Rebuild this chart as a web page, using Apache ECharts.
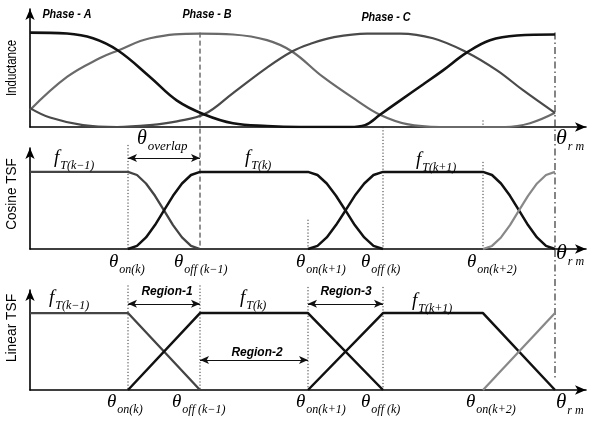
<!DOCTYPE html>
<html>
<head>
<meta charset="utf-8">
<script src="https://cdn.jsdelivr.net/npm/echarts@6/dist/echarts.min.js"></script>
<style>
  html, body { margin: 0; padding: 0; background: #fff; }
  #chart { width: 592px; height: 425px; }
</style>
</head>
<body>
<div id="chart"></div>
<script>
// Rotor position axis runs from 0 to θrm = 105 (arbitrary units).
// Switching angles along that axis.
const switchAngles = [19.6, 34, 55.6, 70.6, 90.6, 105];

// Phase inductance profiles, [θ, L / Lmax]
const phaseA = [[0,1.0],[7.4,0.99],[12.6,0.94],[17.6,0.81],[24,0.53],[29.4,0.28],[35,0.13],[40.6,0.04],[47.4,0.01],[54,0],[64,0],[67,0.02],[70,0.13],[74,0.28],[78.6,0.45],[82.6,0.6],[87.4,0.79],[92,0.92],[97.4,0.97],[105,0.98]];
const phaseB = [[0,0.18],[7.4,0.53],[14,0.73],[17.6,0.81],[24,0.94],[34,0.99],[40.6,0.98],[47.4,0.92],[52.4,0.8],[58.6,0.53],[65.4,0.28],[70,0.13],[75.4,0.03],[82,0],[95,0],[100,0.04],[105,0.15]];
const phaseC = [[0,0.2],[4,0.1],[10.6,0.02],[17.4,0],[24,0.02],[29.4,0.06],[35,0.14],[40.6,0.36],[47.4,0.63],[52.4,0.8],[56,0.88],[60.6,0.95],[67.4,0.99],[74,0.99],[80.6,0.94],[87.4,0.79],[93.4,0.6],[98.6,0.39],[105,0.15]];

// Cosine torque sharing functions, [θ, f]
const cosPrev = [[0,1],[19.6,1],[21.4,0.96],[23.2,0.85],[25,0.69],[26.8,0.5],[28.6,0.31],[30.4,0.15],[32.2,0.04],[34,0]];
const cosK = [[19.6,0],[21.4,0.04],[23.2,0.15],[25,0.31],[26.8,0.5],[28.6,0.69],[30.4,0.85],[32.2,0.96],[34,1],[55.6,1],[57.5,0.96],[59.35,0.85],[61.2,0.69],[63.1,0.5],[64.95,0.31],[66.85,0.15],[68.7,0.04],[70.6,0]];
const cosK1 = [[55.6,0],[57.5,0.04],[59.35,0.15],[61.2,0.31],[63.1,0.5],[64.95,0.69],[66.85,0.85],[68.7,0.96],[70.6,1],[90.6,1],[92.4,0.96],[94.2,0.85],[96,0.69],[97.8,0.5],[99.6,0.31],[101.4,0.15],[103.2,0.04],[105,0]];
const cosK2 = [[90.6,0],[92.4,0.04],[94.2,0.15],[96,0.31],[97.8,0.5],[99.6,0.69],[101.4,0.85],[103.2,0.96],[105,1]];

// Linear torque sharing functions, [θ, f]
const linPrev = [[0,1],[19.6,1],[34,0]];
const linK = [[19.6,0],[34,1],[55.6,1],[70.6,0]];
const linK1 = [[55.6,0],[70.6,1],[90.6,1],[105,0]];
const linK2 = [[90.6,0],[105,1]];

// Interval arrows: [from θ, to θ, level]
const overlapSpan = [19.6, 34, 1.18];
const region1Span = [19.6, 34, 1.12];
const region2Span = [34, 55.6, 0.39];
const region3Span = [55.6, 70.6, 1.12];

// Vertical reference lines: [θ, from panel, from level, to panel, to level, kind]
const guides = [
  [34, 0, 1.0, 1, 0, 'dash'],
  [105, 0, 1.0, 2, 0.13, 'dashdot'],
  [70.6, 0, 0, 1, 0, 'dot'],
  [90.6, 0, 0.07, 0, 0, 'dot'],
  [19.6, 1, 1.35, 1, 0, 'dot'],
  [55.6, 1, 0.38, 1, 0, 'dot'],
  [90.6, 1, 1.13, 1, 0, 'dot'],
  [19.6, 2, 1.36, 2, 0, 'dot'],
  [34, 2, 1.36, 2, 0, 'dot'],
  [55.6, 2, 1.34, 2, 0, 'dot'],
  [70.6, 2, 1.34, 2, 0, 'dot']
];

const SERIF = '"Liberation Serif", "Times New Roman", serif';
const SANS = '"Liberation Sans", Arial, sans-serif';
const BLACK = '#111';

const grids = [
  { left: 30, top: 9, width: 556, height: 118 },
  { left: 30, top: 148, width: 556, height: 101 },
  { left: 30, top: 290, width: 556, height: 100 }
];
const yMax = [1.25, 1.31, 1.30];

function axisLineCfg() {
  return {
    show: true,
    symbol: ['none', 'arrow'],
    symbolSize: [7, 11],
    lineStyle: { color: '#000', width: 1.6 }
  };
}

const xAxes = grids.map((g, i) => ({
  type: 'value', gridIndex: i, min: 0, max: 111.2,
  axisLine: axisLineCfg(), axisTick: { show: false },
  axisLabel: { show: false }, splitLine: { show: false }
}));
const yAxes = grids.map((g, i) => ({
  type: 'value', gridIndex: i, min: 0, max: yMax[i],
  axisLine: axisLineCfg(), axisTick: { show: false },
  axisLabel: { show: false }, splitLine: { show: false }
}));

function curve(data, grid, color, width, smooth) {
  return {
    type: 'line', data: data, xAxisIndex: grid, yAxisIndex: grid,
    showSymbol: false, symbol: 'none', smooth: smooth || false,
    lineStyle: { color: color, width: width },
    silent: true, animation: false, z: 3
  };
}

function arrowMark(spans) {
  return {
    silent: true, animation: false,
    symbol: ['arrow', 'arrow'], symbolSize: [6, 9],
    label: { show: false }, emphasis: { disabled: true },
    lineStyle: { color: BLACK, width: 1.2, type: 'solid' },
    data: spans.map(s => [{ coord: [s[0], s[2]] }, { coord: [s[1], s[2]] }])
  };
}

const series = [
  curve(phaseB, 0, '#6a6a6a', 2.2, 0.4),
  curve(phaseC, 0, '#4a4a4a', 2.2, 0.4),
  curve(phaseA, 0, BLACK, 2.6, 0.4),

  curve(cosPrev, 1, '#444', 2.3),
  Object.assign(curve(cosK, 1, BLACK, 2.5), { markLine: arrowMark([overlapSpan]) }),
  curve(cosK1, 1, BLACK, 2.5),
  curve(cosK2, 1, '#888', 2.2),

  curve(linPrev, 2, '#444', 2.3),
  Object.assign(curve(linK, 2, BLACK, 2.5), { markLine: arrowMark([region1Span, region2Span, region3Span]) }),
  curve(linK1, 2, BLACK, 2.5),
  curve(linK2, 2, '#888', 2.2)
];

const chart = echarts.init(document.getElementById('chart'), null, { renderer: 'canvas' });
chart.setOption({
  animation: false,
  backgroundColor: '#fff',
  grid: grids,
  xAxis: xAxes,
  yAxis: yAxes,
  series: series
});

// ---- annotations ----
function subLabel(x, y, main, sub, mainSize, subSize) {
  return {
    type: 'text', x: x, y: y, silent: true, z: 10,
    style: {
      text: '{a|' + main + '}{b|' + sub + '}',
      align: 'left', verticalAlign: 'middle', fill: '#000',
      rich: {
        a: { fontFamily: SERIF, fontStyle: 'italic', fontSize: mainSize, fill: '#000',
             verticalAlign: 'bottom', padding: [0, 1, 4, 0] },
        b: { fontFamily: SERIF, fontStyle: 'italic', fontSize: subSize, fill: '#000',
             verticalAlign: 'bottom' }
      }
    }
  };
}
function boldTag(cx, cy, text, size, squeeze) {
  return {
    type: 'text', x: cx, y: cy, scaleX: squeeze, silent: true, z: 10,
    style: { text: text, align: 'center', verticalAlign: 'middle', fill: '#000',
             fontFamily: SANS, fontWeight: 'bold', fontStyle: 'italic', fontSize: size }
  };
}
function axisTitle(cx, cy, text, size, squeeze) {
  return {
    type: 'text', x: cx, y: cy, rotation: Math.PI / 2, scaleX: squeeze, silent: true, z: 10,
    style: { text: text, align: 'center', verticalAlign: 'middle', fill: '#000',
             fontFamily: SANS, fontSize: size }
  };
}

const texts = [
  axisTitle(12, 68, 'Inductance', 14, 0.82),
  axisTitle(12, 194, 'Cosine TSF', 15, 0.9),
  axisTitle(12, 328, 'Linear TSF', 15, 0.92),

  boldTag(67, 15, 'Phase - A', 12, 0.9),
  boldTag(207, 15, 'Phase - B', 12, 0.9),
  boldTag(386, 18, 'Phase - C', 12, 0.9),

  subLabel(556, 140, 'θ', 'r m', 22, 12),

  subLabel(137, 141, 'θ', 'overlap', 20, 13),
  subLabel(54, 160, 'f', 'T(k−1)', 19, 12),
  subLabel(245, 160, 'f', 'T(k)', 19, 12),
  subLabel(416, 162, 'f', 'T(k+1)', 19, 12),
  subLabel(109, 264, 'θ', 'on(k)', 19, 12),
  subLabel(174, 264, 'θ', 'off (k−1)', 19, 12),
  subLabel(296, 264, 'θ', 'on(k+1)', 19, 12),
  subLabel(361, 264, 'θ', 'off (k)', 19, 12),
  subLabel(467, 264, 'θ', 'on(k+2)', 19, 12),
  subLabel(556, 255, 'θ', 'r m', 22, 12),

  boldTag(167, 291, 'Region-1', 13, 0.92),
  boldTag(257, 352, 'Region-2', 13, 0.92),
  boldTag(346, 291, 'Region-3', 13, 0.92),
  subLabel(49, 300, 'f', 'T(k−1)', 19, 12),
  subLabel(240, 300, 'f', 'T(k)', 19, 12),
  subLabel(412, 303, 'f', 'T(k+1)', 19, 12),
  subLabel(107, 404, 'θ', 'on(k)', 19, 12),
  subLabel(172, 404, 'θ', 'off (k−1)', 19, 12),
  subLabel(296, 404, 'θ', 'on(k+1)', 19, 12),
  subLabel(361, 404, 'θ', 'off (k)', 19, 12),
  subLabel(466, 404, 'θ', 'on(k+2)', 19, 12),
  subLabel(556, 404, 'θ', 'r m', 21, 12)
];

const dashKinds = {
  dash: { dash: [5, 3], color: '#222', width: 1 },
  dashdot: { dash: [7, 3, 1.5, 3], color: '#222', width: 1.1 },
  dot: { dash: [1.2, 2], color: '#333', width: 1 }
};
const guideLines = guides.map(g => {
  const p1 = chart.convertToPixel({ gridIndex: g[1] }, [g[0], g[2]]);
  const p2 = chart.convertToPixel({ gridIndex: g[3] }, [g[0], g[4]]);
  const k = dashKinds[g[5]];
  return {
    type: 'line', silent: true, z: 1,
    shape: { x1: p1[0], y1: p1[1], x2: p2[0], y2: p2[1] },
    style: { stroke: k.color, lineWidth: k.width, lineDash: k.dash }
  };
});

chart.setOption({ graphic: guideLines.concat(texts) });
</script>
</body>
</html>
